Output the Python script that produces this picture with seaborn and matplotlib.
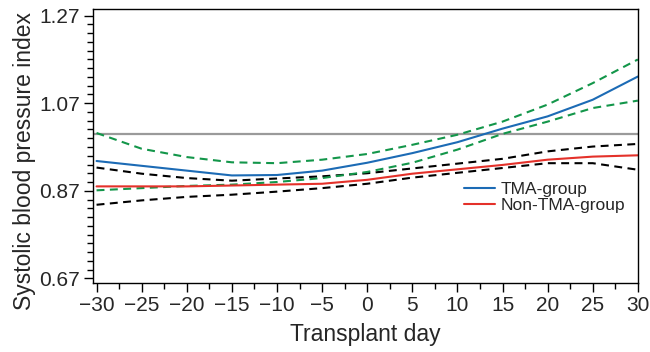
import numpy as np
import pandas as pd
import matplotlib
matplotlib.use("Agg")
import matplotlib.pyplot as plt
from matplotlib.ticker import MultipleLocator, FixedLocator
import seaborn as sns

# values, every 5 days
days = [-30, -25, -20, -15, -10, -5, 0, 5, 10, 15, 20, 25, 30]
tma = [0.938, 0.927, 0.916, 0.905, 0.906, 0.916, 0.934, 0.956, 0.981, 1.012, 1.040, 1.078, 1.131]
tma_upper = [1.002, 0.966, 0.947, 0.935, 0.933, 0.941, 0.954, 0.975, 0.998, 1.028, 1.067, 1.116, 1.170]
tma_lower = [0.871, 0.876, 0.881, 0.884, 0.890, 0.899, 0.913, 0.934, 0.964, 1.000, 1.028, 1.059, 1.076]
non_tma = [0.880, 0.880, 0.880, 0.882, 0.884, 0.886, 0.895, 0.909, 0.919, 0.929, 0.941, 0.948, 0.951]
non_upper = [0.923, 0.909, 0.899, 0.893, 0.898, 0.903, 0.910, 0.921, 0.932, 0.943, 0.960, 0.971, 0.977]
non_lower = [0.838, 0.848, 0.856, 0.861, 0.868, 0.876, 0.886, 0.900, 0.911, 0.922, 0.933, 0.933, 0.918]
ref_level = 1.0

sns.set_style("ticks")
plt.rcParams['font.family'] = ['Liberation Sans', 'DejaVu Sans']
plt.rcParams['axes.unicode_minus'] = True

fig = plt.figure(figsize=(6.5, 3.52), dpi=100)
ax = fig.add_axes([0.143, 0.197, 0.839, 0.777])

ax.axhline(ref_level, color="#9a9a9a", lw=1.6, zorder=1)

dash = (3.8, 2.6)
sns.lineplot(x=days, y=non_upper, ax=ax, color="black", lw=1.5, linestyle=(0, dash))
sns.lineplot(x=days, y=non_lower, ax=ax, color="black", lw=1.5, linestyle=(0, dash))
sns.lineplot(x=days, y=tma_upper, ax=ax, color="#13964a", lw=1.5, linestyle=(0, dash))
sns.lineplot(x=days, y=tma_lower, ax=ax, color="#13964a", lw=1.5, linestyle=(0, dash))
sns.lineplot(x=days, y=non_tma, ax=ax, color="#e4312a", lw=1.5, label="Non-TMA-group")
sns.lineplot(x=days, y=tma, ax=ax, color="#1c6bb5", lw=1.5, label="TMA-group")

ax.set_xlim(-30.4, 30.05)
ax.set_ylim(0.66, 1.285)
ax.set_xticks(range(-30, 31, 5))
ax.xaxis.set_minor_locator(MultipleLocator(2.5))
ax.set_yticks([0.67, 0.87, 1.07, 1.27])
ax.yaxis.set_minor_locator(FixedLocator(np.arange(0.67, 1.2701, 0.02)))
ax.set_yticklabels(["0.67", "0.87", "1.07", "1.27"])

ax.tick_params(axis="both", which="major", length=6.5, width=1, labelsize=15, color="black", pad=3)
ax.tick_params(axis="both", which="minor", length=4, width=1, color="black")
for s in ax.spines.values():
    s.set_color("black")
    s.set_linewidth(1)

ax.set_xlabel("Transplant day", fontsize=16.5, labelpad=6)
ax.set_ylabel("Systolic blood pressure index", fontsize=16.5)
ax.yaxis.set_label_coords(-0.104, 0.445)

h, l = ax.get_legend_handles_labels()
ax.legend(h[::-1], l[::-1], loc="upper left", bbox_to_anchor=(0.68, 0.37), frameon=False,
          fontsize=12.5, handlelength=1.8, handletextpad=0.3, labelspacing=0.05, borderpad=0,
          borderaxespad=0)

fig.savefig("out.png", dpi=100)
